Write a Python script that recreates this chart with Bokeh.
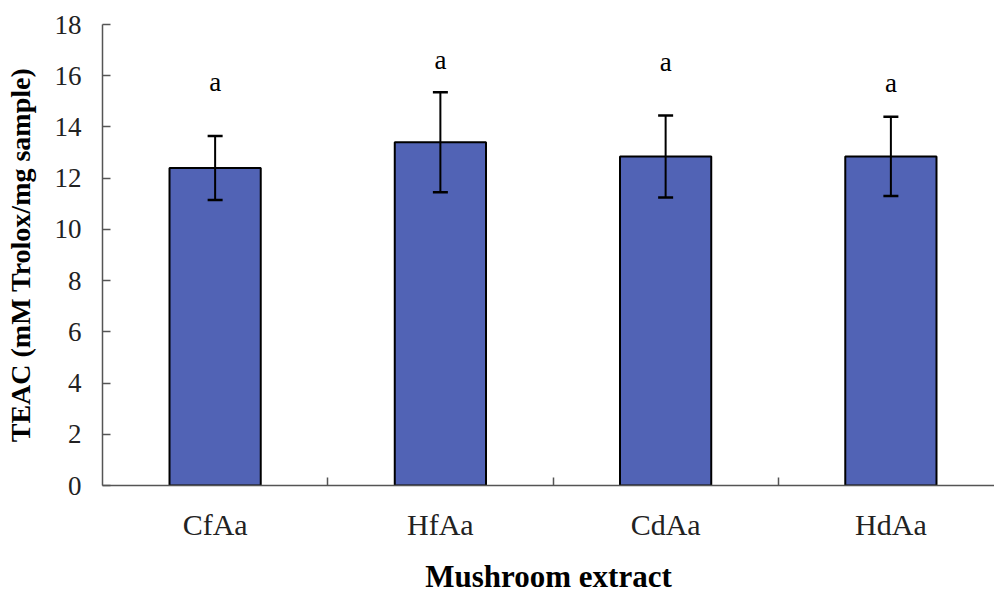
from bokeh.plotting import figure
from bokeh.models import ColumnDataSource, LinearAxis, FixedTicker, Range1d
from bokeh.embed import file_html
from bokeh.resources import INLINE
from bokeh.core.properties import value

categories = ["CfAa", "HfAa", "CdAa", "HdAa"]
teac = [12.4, 13.4, 12.85, 12.85]
sd = [1.25, 1.95, 1.6, 1.55]
letters = ["a", "a", "a", "a"]
letter_y = [15.75, 16.6, 16.55, 15.7]
y_ticks = [0, 2, 4, 6, 8, 10, 12, 14, 16, 18]

FONT = "Liberation Serif"

xs = [i + 0.5 for i in range(len(categories))]
boundaries = [i for i in range(1, len(categories))]
lower = [m - s for m, s in zip(teac, sd)]
upper = [m + s for m, s in zip(teac, sd)]

src = ColumnDataSource(dict(x=xs, top=teac, lower=lower, upper=upper,
                            lab=letters, ly=letter_y))

p = figure(width=994, height=596, x_range=Range1d(0, 3.96), y_range=Range1d(0, 18),
           output_backend="svg", toolbar_location=None,
           x_axis_location=None, y_axis_location=None)
p.min_border_left = 102
p.min_border_right = 0
p.min_border_top = 24
p.min_border_bottom = 110
p.outline_line_color = None
p.xgrid.visible = False
p.ygrid.visible = False
p.background_fill_color = "white"
p.border_fill_color = "white"

p.vbar(x="x", top="top", width=0.405, bottom=0, source=src,
       fill_color="#5163b5", line_color="black", line_width=2)

# error bars
p.segment(x0="x", y0="lower", x1="x", y1="upper", source=src,
          line_color="black", line_width=2)
p.scatter(x="x", y="upper", source=src, marker="dash", size=15,
          line_color="black", line_width=2.5)
p.scatter(x="x", y="lower", source=src, marker="dash", size=15,
          line_color="black", line_width=2.5)

p.text(x="x", y="ly", text="lab", source=src, text_align="center",
       text_baseline="middle", text_font=value(FONT), text_font_size="27px",
       text_color="black")

yaxis = LinearAxis(ticker=FixedTicker(ticks=y_ticks))
yaxis.axis_label = "TEAC (mM Trolox/mg sample)"
yaxis.axis_label_text_font = FONT
yaxis.axis_label_text_font_style = "bold"
yaxis.axis_label_text_font_size = "28px"
yaxis.axis_label_text_color = "black"
yaxis.axis_label_standoff = 16
yaxis.major_label_text_font = FONT
yaxis.major_label_text_font_size = "27px"
yaxis.major_label_text_color = "#222222"
yaxis.major_label_standoff = 21
yaxis.major_tick_in = 8
yaxis.major_tick_out = 0
yaxis.minor_tick_line_color = None
yaxis.axis_line_color = "#555555"
yaxis.axis_line_width = 1.5
yaxis.major_tick_line_color = "#555555"
yaxis.major_tick_line_width = 1.5
p.add_layout(yaxis, "left")

xaxis = LinearAxis(ticker=FixedTicker(ticks=xs, minor_ticks=boundaries),
                   major_label_overrides={x: c for x, c in zip(xs, categories)})
xaxis.axis_line_color = "#555555"
xaxis.axis_line_width = 1.5
xaxis.major_tick_line_color = None
xaxis.minor_tick_in = 8
xaxis.minor_tick_out = 0
xaxis.minor_tick_line_color = "#555555"
xaxis.minor_tick_line_width = 1.5
xaxis.major_label_text_font = FONT
xaxis.major_label_text_font_size = "30px"
xaxis.major_label_text_color = "#222222"
xaxis.major_label_standoff = 16
xaxis.axis_label = "Mushroom extract"
xaxis.axis_label_text_font = FONT
xaxis.axis_label_text_font_style = "bold"
xaxis.axis_label_text_font_size = "31px"
xaxis.axis_label_text_color = "black"
xaxis.axis_label_standoff = 15
p.add_layout(xaxis, "below")

open("out.html", "w").write(file_html(p, INLINE))
